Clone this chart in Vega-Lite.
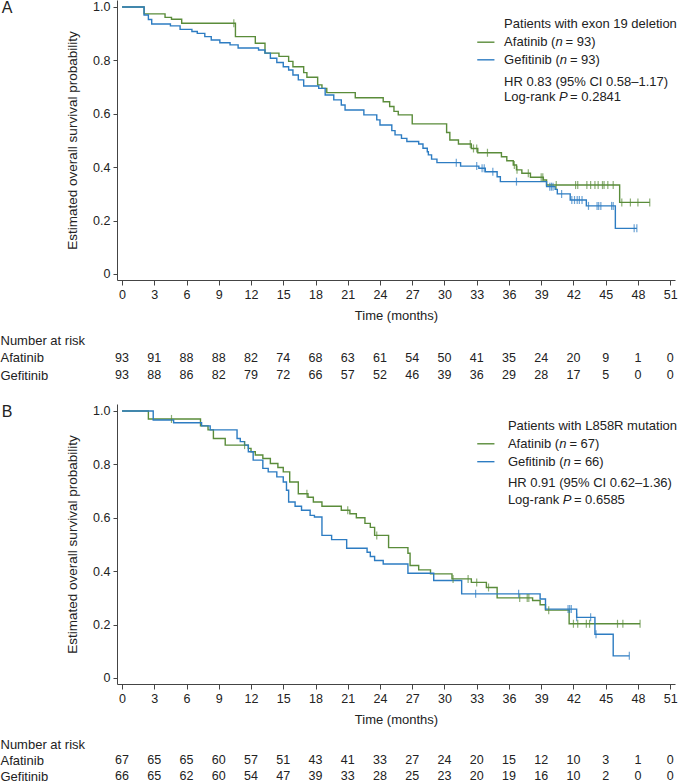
{
  "$schema": "https://vega.github.io/schema/vega-lite/v6.json",
  "padding": 0,
  "spacing": 11,
  "config": {
    "view": {"stroke": null},
    "font": "Liberation Sans",
    "axis": {"labelFont": "Liberation Sans", "titleFont": "Liberation Sans", "grid": false, "domainColor": "#444", "tickColor": "#444", "labelColor": "#222", "titleColor": "#222", "titleFontWeight": "normal", "labelFlush": false},
    "text": {"font": "Liberation Sans", "fontSize": 13, "align": "left", "baseline": "middle", "color": "#222"}
  },
  "datasets": {
    "curveA": [
      {"arm":"Afatinib","t":0,"s":1},{"arm":"Afatinib","t":2.05,"s":0.974},{"arm":"Afatinib","t":4.0,"s":0.961},{"arm":"Afatinib","t":4.6,"s":0.954},{"arm":"Afatinib","t":5.55,"s":0.939},{"arm":"Afatinib","t":10.55,"s":0.889},{"arm":"Afatinib","t":12.4,"s":0.864},{"arm":"Afatinib","t":13.3,"s":0.827},{"arm":"Afatinib","t":14.6,"s":0.815},{"arm":"Afatinib","t":15.5,"s":0.796},{"arm":"Afatinib","t":15.9,"s":0.776},{"arm":"Afatinib","t":16.9,"s":0.754},{"arm":"Afatinib","t":17.2,"s":0.737},{"arm":"Afatinib","t":18.2,"s":0.708},{"arm":"Afatinib","t":18.6,"s":0.695},{"arm":"Afatinib","t":19.05,"s":0.679},{"arm":"Afatinib","t":21.7,"s":0.66},{"arm":"Afatinib","t":24.3,"s":0.645},{"arm":"Afatinib","t":24.9,"s":0.627},{"arm":"Afatinib","t":25.3,"s":0.609},{"arm":"Afatinib","t":25.7,"s":0.596},{"arm":"Afatinib","t":27.0,"s":0.562},{"arm":"Afatinib","t":30.2,"s":0.53},{"arm":"Afatinib","t":30.5,"s":0.502},{"arm":"Afatinib","t":31.3,"s":0.487},{"arm":"Afatinib","t":32.5,"s":0.47},{"arm":"Afatinib","t":33.1,"s":0.454},{"arm":"Afatinib","t":35.3,"s":0.439},{"arm":"Afatinib","t":35.8,"s":0.424},{"arm":"Afatinib","t":36.4,"s":0.408},{"arm":"Afatinib","t":36.7,"s":0.39},{"arm":"Afatinib","t":37.2,"s":0.377},{"arm":"Afatinib","t":38.0,"s":0.362},{"arm":"Afatinib","t":39.2,"s":0.352},{"arm":"Afatinib","t":39.5,"s":0.333},{"arm":"Afatinib","t":46.3,"s":0.268},{"arm":"Afatinib","t":49.1,"s":0.268},
      {"arm":"Gefitinib","t":0,"s":1},{"arm":"Gefitinib","t":2.05,"s":0.97},{"arm":"Gefitinib","t":2.45,"s":0.953},{"arm":"Gefitinib","t":2.76,"s":0.936},{"arm":"Gefitinib","t":4.5,"s":0.929},{"arm":"Gefitinib","t":5.4,"s":0.916},{"arm":"Gefitinib","t":6.5,"s":0.908},{"arm":"Gefitinib","t":7.0,"s":0.901},{"arm":"Gefitinib","t":7.7,"s":0.889},{"arm":"Gefitinib","t":8.3,"s":0.876},{"arm":"Gefitinib","t":9.1,"s":0.866},{"arm":"Gefitinib","t":10.05,"s":0.858},{"arm":"Gefitinib","t":10.8,"s":0.846},{"arm":"Gefitinib","t":12.7,"s":0.839},{"arm":"Gefitinib","t":13.3,"s":0.827},{"arm":"Gefitinib","t":13.8,"s":0.808},{"arm":"Gefitinib","t":14.4,"s":0.792},{"arm":"Gefitinib","t":15.0,"s":0.776},{"arm":"Gefitinib","t":15.5,"s":0.764},{"arm":"Gefitinib","t":15.9,"s":0.745},{"arm":"Gefitinib","t":16.4,"s":0.727},{"arm":"Gefitinib","t":16.9,"s":0.704},{"arm":"Gefitinib","t":18.3,"s":0.695},{"arm":"Gefitinib","t":18.9,"s":0.67},{"arm":"Gefitinib","t":19.7,"s":0.652},{"arm":"Gefitinib","t":20.4,"s":0.633},{"arm":"Gefitinib","t":20.75,"s":0.614},{"arm":"Gefitinib","t":22.5,"s":0.596},{"arm":"Gefitinib","t":23.7,"s":0.577},{"arm":"Gefitinib","t":24.0,"s":0.558},{"arm":"Gefitinib","t":25.1,"s":0.537},{"arm":"Gefitinib","t":25.4,"s":0.521},{"arm":"Gefitinib","t":26.0,"s":0.508},{"arm":"Gefitinib","t":26.5,"s":0.496},{"arm":"Gefitinib","t":27.6,"s":0.487},{"arm":"Gefitinib","t":28.0,"s":0.471},{"arm":"Gefitinib","t":28.4,"s":0.458},{"arm":"Gefitinib","t":28.5,"s":0.446},{"arm":"Gefitinib","t":28.8,"s":0.43},{"arm":"Gefitinib","t":29.3,"s":0.417},{"arm":"Gefitinib","t":31.5,"s":0.404},{"arm":"Gefitinib","t":33.2,"s":0.396},{"arm":"Gefitinib","t":33.8,"s":0.383},{"arm":"Gefitinib","t":34.9,"s":0.364},{"arm":"Gefitinib","t":35.2,"s":0.346},{"arm":"Gefitinib","t":39.5,"s":0.327},{"arm":"Gefitinib","t":40.3,"s":0.317},{"arm":"Gefitinib","t":40.5,"s":0.3},{"arm":"Gefitinib","t":41.7,"s":0.277},{"arm":"Gefitinib","t":43.2,"s":0.255},{"arm":"Gefitinib","t":45.9,"s":0.171},{"arm":"Gefitinib","t":47.9,"s":0.171}
    ],
    "censA": [
      {"arm":"Afatinib","t":10.4,"s":0.939},{"arm":"Afatinib","t":32.4,"s":0.487},{"arm":"Afatinib","t":32.7,"s":0.47},{"arm":"Afatinib","t":33.0,"s":0.47},{"arm":"Afatinib","t":34.0,"s":0.454},{"arm":"Afatinib","t":36.5,"s":0.408},{"arm":"Afatinib","t":36.75,"s":0.39},{"arm":"Afatinib","t":37.8,"s":0.377},{"arm":"Afatinib","t":39.0,"s":0.362},{"arm":"Afatinib","t":39.15,"s":0.362},{"arm":"Afatinib","t":40.4,"s":0.333},{"arm":"Afatinib","t":42.2,"s":0.333},{"arm":"Afatinib","t":42.4,"s":0.333},{"arm":"Afatinib","t":43.25,"s":0.333},{"arm":"Afatinib","t":43.6,"s":0.333},{"arm":"Afatinib","t":44.0,"s":0.333},{"arm":"Afatinib","t":44.3,"s":0.333},{"arm":"Afatinib","t":44.7,"s":0.333},{"arm":"Afatinib","t":44.85,"s":0.333},{"arm":"Afatinib","t":45.2,"s":0.333},{"arm":"Afatinib","t":45.7,"s":0.333},{"arm":"Afatinib","t":46.5,"s":0.268},{"arm":"Afatinib","t":47.3,"s":0.268},{"arm":"Afatinib","t":48.0,"s":0.268},{"arm":"Afatinib","t":49.1,"s":0.268},
      {"arm":"Gefitinib","t":31.1,"s":0.417},{"arm":"Gefitinib","t":33.0,"s":0.404},{"arm":"Gefitinib","t":33.5,"s":0.396},{"arm":"Gefitinib","t":33.7,"s":0.396},{"arm":"Gefitinib","t":34.5,"s":0.383},{"arm":"Gefitinib","t":36.7,"s":0.346},{"arm":"Gefitinib","t":39.8,"s":0.327},{"arm":"Gefitinib","t":39.95,"s":0.327},{"arm":"Gefitinib","t":40.1,"s":0.327},{"arm":"Gefitinib","t":40.9,"s":0.3},{"arm":"Gefitinib","t":41.85,"s":0.277},{"arm":"Gefitinib","t":42.1,"s":0.277},{"arm":"Gefitinib","t":42.35,"s":0.277},{"arm":"Gefitinib","t":42.55,"s":0.277},{"arm":"Gefitinib","t":42.8,"s":0.277},{"arm":"Gefitinib","t":43.4,"s":0.255},{"arm":"Gefitinib","t":44.2,"s":0.255},{"arm":"Gefitinib","t":44.35,"s":0.255},{"arm":"Gefitinib","t":44.55,"s":0.255},{"arm":"Gefitinib","t":45.55,"s":0.255},{"arm":"Gefitinib","t":45.7,"s":0.255},{"arm":"Gefitinib","t":47.65,"s":0.171},{"arm":"Gefitinib","t":47.9,"s":0.171}
    ],
    "curveB": [
      {"arm":"Afatinib","t":0,"s":1},{"arm":"Afatinib","t":2.45,"s":0.97},{"arm":"Afatinib","t":7.3,"s":0.944},{"arm":"Afatinib","t":8.0,"s":0.929},{"arm":"Afatinib","t":8.5,"s":0.897},{"arm":"Afatinib","t":9.6,"s":0.872},{"arm":"Afatinib","t":11.75,"s":0.86},{"arm":"Afatinib","t":12.0,"s":0.847},{"arm":"Afatinib","t":12.4,"s":0.835},{"arm":"Afatinib","t":13.1,"s":0.822},{"arm":"Afatinib","t":13.8,"s":0.803},{"arm":"Afatinib","t":14.5,"s":0.788},{"arm":"Afatinib","t":15.0,"s":0.772},{"arm":"Afatinib","t":15.6,"s":0.734},{"arm":"Afatinib","t":16.4,"s":0.69},{"arm":"Afatinib","t":17.3,"s":0.677},{"arm":"Afatinib","t":17.8,"s":0.659},{"arm":"Afatinib","t":18.6,"s":0.643},{"arm":"Afatinib","t":20.4,"s":0.628},{"arm":"Afatinib","t":21.2,"s":0.615},{"arm":"Afatinib","t":21.8,"s":0.6},{"arm":"Afatinib","t":22.6,"s":0.579},{"arm":"Afatinib","t":23.1,"s":0.564},{"arm":"Afatinib","t":23.5,"s":0.534},{"arm":"Afatinib","t":24.8,"s":0.488},{"arm":"Afatinib","t":26.6,"s":0.467},{"arm":"Afatinib","t":26.8,"s":0.421},{"arm":"Afatinib","t":27.6,"s":0.405},{"arm":"Afatinib","t":28.7,"s":0.39},{"arm":"Afatinib","t":30.7,"s":0.371},{"arm":"Afatinib","t":32.5,"s":0.358},{"arm":"Afatinib","t":33.9,"s":0.339},{"arm":"Afatinib","t":34.9,"s":0.3},{"arm":"Afatinib","t":38.2,"s":0.29},{"arm":"Afatinib","t":38.9,"s":0.274},{"arm":"Afatinib","t":39.4,"s":0.254},{"arm":"Afatinib","t":41.6,"s":0.203},{"arm":"Afatinib","t":48.2,"s":0.203},
      {"arm":"Gefitinib","t":0,"s":1},{"arm":"Gefitinib","t":2.9,"s":0.966},{"arm":"Gefitinib","t":4.8,"s":0.956},{"arm":"Gefitinib","t":7.4,"s":0.944},{"arm":"Gefitinib","t":8.2,"s":0.929},{"arm":"Gefitinib","t":10.7,"s":0.897},{"arm":"Gefitinib","t":11.0,"s":0.885},{"arm":"Gefitinib","t":11.4,"s":0.872},{"arm":"Gefitinib","t":11.75,"s":0.847},{"arm":"Gefitinib","t":12.2,"s":0.816},{"arm":"Gefitinib","t":13.1,"s":0.785},{"arm":"Gefitinib","t":13.6,"s":0.772},{"arm":"Gefitinib","t":14.4,"s":0.753},{"arm":"Gefitinib","t":15.0,"s":0.734},{"arm":"Gefitinib","t":15.3,"s":0.703},{"arm":"Gefitinib","t":15.5,"s":0.659},{"arm":"Gefitinib","t":16.1,"s":0.643},{"arm":"Gefitinib","t":16.7,"s":0.628},{"arm":"Gefitinib","t":17.5,"s":0.609},{"arm":"Gefitinib","t":17.9,"s":0.603},{"arm":"Gefitinib","t":18.6,"s":0.534},{"arm":"Gefitinib","t":19.5,"s":0.518},{"arm":"Gefitinib","t":20.9,"s":0.486},{"arm":"Gefitinib","t":22.8,"s":0.471},{"arm":"Gefitinib","t":23.1,"s":0.455},{"arm":"Gefitinib","t":23.5,"s":0.44},{"arm":"Gefitinib","t":24.3,"s":0.427},{"arm":"Gefitinib","t":26.6,"s":0.392},{"arm":"Gefitinib","t":29.0,"s":0.365},{"arm":"Gefitinib","t":31.6,"s":0.315},{"arm":"Gefitinib","t":38.9,"s":0.296},{"arm":"Gefitinib","t":39.4,"s":0.258},{"arm":"Gefitinib","t":42.3,"s":0.227},{"arm":"Gefitinib","t":44.0,"s":0.164},{"arm":"Gefitinib","t":45.7,"s":0.083},{"arm":"Gefitinib","t":47.2,"s":0.083}
    ],
    "censB": [
      {"arm":"Afatinib","t":4.6,"s":0.97},{"arm":"Afatinib","t":11.4,"s":0.872},{"arm":"Afatinib","t":17.2,"s":0.69},{"arm":"Afatinib","t":21.0,"s":0.628},{"arm":"Afatinib","t":23.7,"s":0.534},{"arm":"Afatinib","t":30.8,"s":0.371},{"arm":"Afatinib","t":32.2,"s":0.371},{"arm":"Afatinib","t":33.0,"s":0.358},{"arm":"Afatinib","t":34.1,"s":0.339},{"arm":"Afatinib","t":37.0,"s":0.3},{"arm":"Afatinib","t":37.7,"s":0.3},{"arm":"Afatinib","t":37.85,"s":0.3},{"arm":"Afatinib","t":39.7,"s":0.254},{"arm":"Afatinib","t":42.0,"s":0.203},{"arm":"Afatinib","t":42.4,"s":0.203},{"arm":"Afatinib","t":43.2,"s":0.203},{"arm":"Afatinib","t":43.5,"s":0.203},{"arm":"Afatinib","t":46.1,"s":0.203},{"arm":"Afatinib","t":46.6,"s":0.203},{"arm":"Afatinib","t":48.2,"s":0.203},
      {"arm":"Gefitinib","t":32.9,"s":0.315},{"arm":"Gefitinib","t":36.9,"s":0.315},{"arm":"Gefitinib","t":41.5,"s":0.258},{"arm":"Gefitinib","t":41.65,"s":0.258},{"arm":"Gefitinib","t":41.8,"s":0.258},{"arm":"Gefitinib","t":42.3,"s":0.227},{"arm":"Gefitinib","t":43.6,"s":0.227},{"arm":"Gefitinib","t":44.1,"s":0.164},{"arm":"Gefitinib","t":47.2,"s":0.083}
    ],
    "riskA": [
      {"arm":"Afatinib","t":0,"n":93},{"arm":"Afatinib","t":3,"n":91},{"arm":"Afatinib","t":6,"n":88},{"arm":"Afatinib","t":9,"n":88},{"arm":"Afatinib","t":12,"n":82},{"arm":"Afatinib","t":15,"n":74},{"arm":"Afatinib","t":18,"n":68},{"arm":"Afatinib","t":21,"n":63},{"arm":"Afatinib","t":24,"n":61},{"arm":"Afatinib","t":27,"n":54},{"arm":"Afatinib","t":30,"n":50},{"arm":"Afatinib","t":33,"n":41},{"arm":"Afatinib","t":36,"n":35},{"arm":"Afatinib","t":39,"n":24},{"arm":"Afatinib","t":42,"n":20},{"arm":"Afatinib","t":45,"n":9},{"arm":"Afatinib","t":48,"n":1},{"arm":"Afatinib","t":51,"n":0},
      {"arm":"Gefitinib","t":0,"n":93},{"arm":"Gefitinib","t":3,"n":88},{"arm":"Gefitinib","t":6,"n":86},{"arm":"Gefitinib","t":9,"n":82},{"arm":"Gefitinib","t":12,"n":79},{"arm":"Gefitinib","t":15,"n":72},{"arm":"Gefitinib","t":18,"n":66},{"arm":"Gefitinib","t":21,"n":57},{"arm":"Gefitinib","t":24,"n":52},{"arm":"Gefitinib","t":27,"n":46},{"arm":"Gefitinib","t":30,"n":39},{"arm":"Gefitinib","t":33,"n":36},{"arm":"Gefitinib","t":36,"n":29},{"arm":"Gefitinib","t":39,"n":28},{"arm":"Gefitinib","t":42,"n":17},{"arm":"Gefitinib","t":45,"n":5},{"arm":"Gefitinib","t":48,"n":0},{"arm":"Gefitinib","t":51,"n":0}
    ],
    "riskB": [
      {"arm":"Afatinib","t":0,"n":67},{"arm":"Afatinib","t":3,"n":65},{"arm":"Afatinib","t":6,"n":65},{"arm":"Afatinib","t":9,"n":60},{"arm":"Afatinib","t":12,"n":57},{"arm":"Afatinib","t":15,"n":51},{"arm":"Afatinib","t":18,"n":43},{"arm":"Afatinib","t":21,"n":41},{"arm":"Afatinib","t":24,"n":33},{"arm":"Afatinib","t":27,"n":27},{"arm":"Afatinib","t":30,"n":24},{"arm":"Afatinib","t":33,"n":20},{"arm":"Afatinib","t":36,"n":15},{"arm":"Afatinib","t":39,"n":12},{"arm":"Afatinib","t":42,"n":10},{"arm":"Afatinib","t":45,"n":3},{"arm":"Afatinib","t":48,"n":1},{"arm":"Afatinib","t":51,"n":0},
      {"arm":"Gefitinib","t":0,"n":66},{"arm":"Gefitinib","t":3,"n":65},{"arm":"Gefitinib","t":6,"n":62},{"arm":"Gefitinib","t":9,"n":60},{"arm":"Gefitinib","t":12,"n":54},{"arm":"Gefitinib","t":15,"n":47},{"arm":"Gefitinib","t":18,"n":39},{"arm":"Gefitinib","t":21,"n":33},{"arm":"Gefitinib","t":24,"n":28},{"arm":"Gefitinib","t":27,"n":25},{"arm":"Gefitinib","t":30,"n":23},{"arm":"Gefitinib","t":33,"n":20},{"arm":"Gefitinib","t":36,"n":19},{"arm":"Gefitinib","t":39,"n":16},{"arm":"Gefitinib","t":42,"n":10},{"arm":"Gefitinib","t":45,"n":2},{"arm":"Gefitinib","t":48,"n":0},{"arm":"Gefitinib","t":51,"n":0}
    ]
  },
  "vconcat": [
    {
      "width": 558, "height": 280,
      "encoding": {
        "x": {"type": "quantitative", "scale": {"domain": [-0.47, 51.45], "nice": false, "zero": false},
              "axis": {"values": [0,3,6,9,12,15,18,21,24,27,30,33,36,39,42,45,48,51], "title": "Time (months)", "tickSize": 5, "labelPadding": 3, "titlePadding": 9, "labelFontSize": 12.5, "titleFontSize": 13}},
        "y": {"type": "quantitative", "scale": {"domain": [-0.0225, 1.026], "nice": false, "zero": false},
              "axis": {"values": [0,0.2,0.4,0.6,0.8,1], "labelExpr": "datum.value == 0 ? '0' : format(datum.value, '.1f')", "title": "Estimated overall survival probability", "tickSize": 4, "labelPadding": 3, "titlePadding": 13, "labelFontSize": 12.5, "titleFontSize": 13.5}}
      },
      "layer": [
        {"data": {"name": "curveA"}, "mark": {"type": "line", "interpolate": "step-after", "strokeWidth": 1.4},
         "encoding": {"x": {"field": "t"}, "y": {"field": "s"}, "color": {"field": "arm", "type": "nominal", "scale": {"domain": ["Afatinib","Gefitinib"], "range": ["#5a8c3a","#2d7cc2"]}, "legend": null}}},
        {"data": {"name": "censA"}, "mark": {"type": "tick", "orient": "vertical", "size": 8, "thickness": 1.2},
         "encoding": {"x": {"field": "t"}, "y": {"field": "s"}, "color": {"field": "arm", "type": "nominal", "legend": null}}},
        {"data": {"values": [{}]}, "mark": {"type": "text", "fontSize": 16},
         "encoding": {"x": {"datum": -11.2}, "y": {"datum": 0.995}, "text": {"value": "A"}}},
        {"data": {"values": [{}]}, "mark": {"type": "rule", "color": "#5a8c3a", "strokeWidth": 1.4},
         "encoding": {"x": {"datum": 33.05}, "x2": {"datum": 34.65}, "y": {"datum": 0.868}}},
        {"data": {"values": [{}]}, "mark": {"type": "rule", "color": "#2d7cc2", "strokeWidth": 1.4},
         "encoding": {"x": {"datum": 33.05}, "x2": {"datum": 34.65}, "y": {"datum": 0.802}}},
        {"data": {"values": [{}]}, "mark": {"type": "text"},
         "encoding": {"x": {"datum": 35.55}, "y": {"datum": 0.937}, "text": {"value": "Patients with exon 19 deletion"}}},
        {"data": {"values": [{}]}, "mark": {"type": "text"},
         "encoding": {"x": {"datum": 35.55}, "y": {"datum": 0.868}, "text": {"value": "Afatinib ("}}},
        {"data": {"values": [{}]}, "mark": {"type": "text", "fontStyle": "italic", "dx": 51.3},
         "encoding": {"x": {"datum": 35.55}, "y": {"datum": 0.868}, "text": {"value": "n"}}},
        {"data": {"values": [{}]}, "mark": {"type": "text", "dx": 61.5},
         "encoding": {"x": {"datum": 35.55}, "y": {"datum": 0.868}, "text": {"value": "= 93)"}}},
        {"data": {"values": [{}]}, "mark": {"type": "text"},
         "encoding": {"x": {"datum": 35.55}, "y": {"datum": 0.802}, "text": {"value": "Gefitinib ("}}},
        {"data": {"values": [{}]}, "mark": {"type": "text", "fontStyle": "italic", "dx": 55.6},
         "encoding": {"x": {"datum": 35.55}, "y": {"datum": 0.802}, "text": {"value": "n"}}},
        {"data": {"values": [{}]}, "mark": {"type": "text", "dx": 65.8},
         "encoding": {"x": {"datum": 35.55}, "y": {"datum": 0.802}, "text": {"value": "= 93)"}}},
        {"data": {"values": [{}]}, "mark": {"type": "text"},
         "encoding": {"x": {"datum": 35.55}, "y": {"datum": 0.72}, "text": {"value": "HR 0.83 (95% CI 0.58–1.17)"}}},
        {"data": {"values": [{}]}, "mark": {"type": "text"},
         "encoding": {"x": {"datum": 35.55}, "y": {"datum": 0.662}, "text": {"value": "Log-rank"}}},
        {"data": {"values": [{}]}, "mark": {"type": "text", "fontStyle": "italic", "dx": 54.9},
         "encoding": {"x": {"datum": 35.55}, "y": {"datum": 0.662}, "text": {"value": "P"}}},
        {"data": {"values": [{}]}, "mark": {"type": "text", "dx": 66.0},
         "encoding": {"x": {"datum": 35.55}, "y": {"datum": 0.662}, "text": {"value": "= 0.2841"}}}
      ]
    },
    {
      "width": 558, "height": 53,
      "data": {"name": "riskA"},
      "mark": {"type": "text", "fontSize": 12.5, "align": "center", "baseline": "middle", "color": "#222"},
      "encoding": {
        "x": {"field": "t", "type": "quantitative", "scale": {"domain": [-0.47, 51.45], "nice": false, "zero": false}, "axis": null},
        "y": {"field": "arm", "type": "nominal", "scale": {"type": "point", "domain": ["Number at risk","Afatinib","Gefitinib"], "padding": 0.514, "align": 0},
              "axis": {"title": null, "domain": false, "ticks": false, "tickSize": 0, "labelAlign": "left", "labelBaseline": "middle", "labelPadding": 117, "labelFontSize": 13}},
        "text": {"field": "n", "type": "quantitative"}
      }
    },
    {
      "width": 558, "height": 280,
      "encoding": {
        "x": {"type": "quantitative", "scale": {"domain": [-0.47, 51.45], "nice": false, "zero": false},
              "axis": {"values": [0,3,6,9,12,15,18,21,24,27,30,33,36,39,42,45,48,51], "title": "Time (months)", "tickSize": 5, "labelPadding": 3, "titlePadding": 9, "labelFontSize": 12.5, "titleFontSize": 13}},
        "y": {"type": "quantitative", "scale": {"domain": [-0.0225, 1.026], "nice": false, "zero": false},
              "axis": {"values": [0,0.2,0.4,0.6,0.8,1], "labelExpr": "datum.value == 0 ? '0' : format(datum.value, '.1f')", "title": "Estimated overall survival probability", "tickSize": 4, "labelPadding": 3, "titlePadding": 13, "labelFontSize": 12.5, "titleFontSize": 13.5}}
      },
      "layer": [
        {"data": {"name": "curveB"}, "mark": {"type": "line", "interpolate": "step-after", "strokeWidth": 1.4},
         "encoding": {"x": {"field": "t"}, "y": {"field": "s"}, "color": {"field": "arm", "type": "nominal", "scale": {"domain": ["Afatinib","Gefitinib"], "range": ["#5a8c3a","#2d7cc2"]}, "legend": null}}},
        {"data": {"name": "censB"}, "mark": {"type": "tick", "orient": "vertical", "size": 8, "thickness": 1.2},
         "encoding": {"x": {"field": "t"}, "y": {"field": "s"}, "color": {"field": "arm", "type": "nominal", "legend": null}}},
        {"data": {"values": [{}]}, "mark": {"type": "text", "fontSize": 16},
         "encoding": {"x": {"datum": -11.2}, "y": {"datum": 0.995}, "text": {"value": "B"}}},
        {"data": {"values": [{}]}, "mark": {"type": "rule", "color": "#5a8c3a", "strokeWidth": 1.4},
         "encoding": {"x": {"datum": 33.05}, "x2": {"datum": 34.65}, "y": {"datum": 0.877}}},
        {"data": {"values": [{}]}, "mark": {"type": "rule", "color": "#2d7cc2", "strokeWidth": 1.4},
         "encoding": {"x": {"datum": 33.05}, "x2": {"datum": 34.65}, "y": {"datum": 0.81}}},
        {"data": {"values": [{}]}, "mark": {"type": "text"},
         "encoding": {"x": {"datum": 35.9}, "y": {"datum": 0.945}, "text": {"value": "Patients with L858R mutation"}}},
        {"data": {"values": [{}]}, "mark": {"type": "text"},
         "encoding": {"x": {"datum": 35.9}, "y": {"datum": 0.877}, "text": {"value": "Afatinib ("}}},
        {"data": {"values": [{}]}, "mark": {"type": "text", "fontStyle": "italic", "dx": 51.3},
         "encoding": {"x": {"datum": 35.9}, "y": {"datum": 0.877}, "text": {"value": "n"}}},
        {"data": {"values": [{}]}, "mark": {"type": "text", "dx": 61.5},
         "encoding": {"x": {"datum": 35.9}, "y": {"datum": 0.877}, "text": {"value": "= 67)"}}},
        {"data": {"values": [{}]}, "mark": {"type": "text"},
         "encoding": {"x": {"datum": 35.9}, "y": {"datum": 0.81}, "text": {"value": "Gefitinib ("}}},
        {"data": {"values": [{}]}, "mark": {"type": "text", "fontStyle": "italic", "dx": 55.6},
         "encoding": {"x": {"datum": 35.9}, "y": {"datum": 0.81}, "text": {"value": "n"}}},
        {"data": {"values": [{}]}, "mark": {"type": "text", "dx": 65.8},
         "encoding": {"x": {"datum": 35.9}, "y": {"datum": 0.81}, "text": {"value": "= 66)"}}},
        {"data": {"values": [{}]}, "mark": {"type": "text"},
         "encoding": {"x": {"datum": 35.9}, "y": {"datum": 0.73}, "text": {"value": "HR 0.91 (95% CI 0.62–1.36)"}}},
        {"data": {"values": [{}]}, "mark": {"type": "text"},
         "encoding": {"x": {"datum": 35.9}, "y": {"datum": 0.667}, "text": {"value": "Log-rank"}}},
        {"data": {"values": [{}]}, "mark": {"type": "text", "fontStyle": "italic", "dx": 54.9},
         "encoding": {"x": {"datum": 35.9}, "y": {"datum": 0.667}, "text": {"value": "P"}}},
        {"data": {"values": [{}]}, "mark": {"type": "text", "dx": 66.0},
         "encoding": {"x": {"datum": 35.9}, "y": {"datum": 0.667}, "text": {"value": "= 0.6585"}}}
      ]
    },
    {
      "width": 558, "height": 40,
      "data": {"name": "riskB"},
      "mark": {"type": "text", "fontSize": 12.5, "align": "center", "baseline": "middle", "color": "#222"},
      "encoding": {
        "x": {"field": "t", "type": "quantitative", "scale": {"domain": [-0.47, 51.45], "nice": false, "zero": false}, "axis": null},
        "y": {"field": "arm", "type": "nominal", "scale": {"type": "point", "domain": ["Number at risk","Afatinib","Gefitinib"], "padding": 0.25, "align": 0},
              "axis": {"title": null, "domain": false, "ticks": false, "tickSize": 0, "labelAlign": "left", "labelBaseline": "middle", "labelPadding": 117, "labelFontSize": 13}},
        "text": {"field": "n", "type": "quantitative"}
      }
    }
  ]
}
